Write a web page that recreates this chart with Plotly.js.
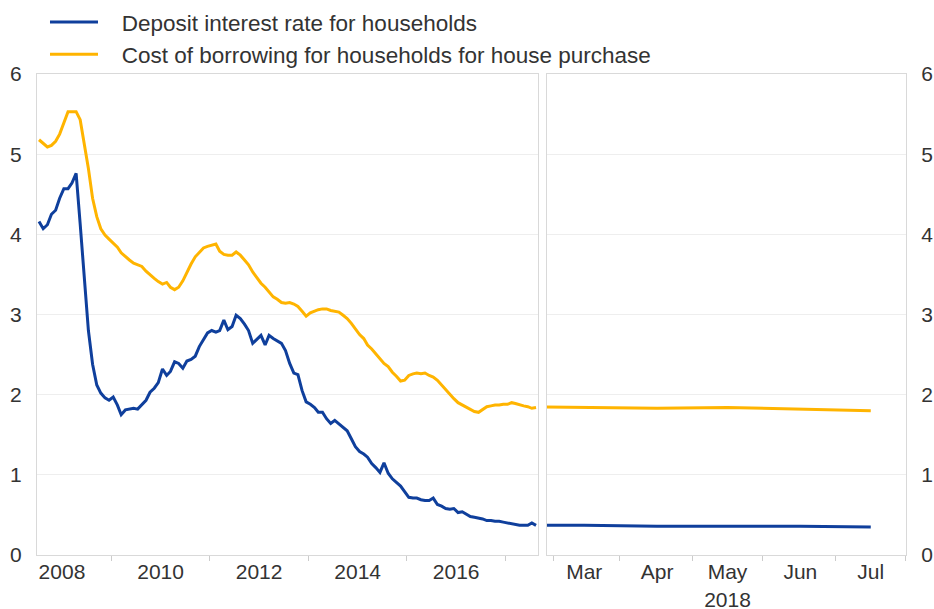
<!DOCTYPE html>
<html>
<head>
<meta charset="utf-8">
<script src="https://cdn.plot.ly/plotly-3.0.1.min.js"></script>
<style>html,body{margin:0;padding:0;background:#fff;}#chart{width:934px;height:609px;}</style>
</head>
<body>
<div id="chart"></div>
<script>
// ---- data ----
const seriesNames = ["Deposit interest rate for households", "Cost of borrowing for households for house purchase"];
const startYear = 2007, startMonth = 7, nMonths = 122; // monthly, Jul 2007 - Aug 2017
const depositRate = [
  4.16, 4.07, 4.12, 4.25, 4.30, 4.45,
  4.57, 4.57, 4.64, 4.76, 4.13, 3.42, 2.80, 2.38, 2.12, 2.02, 1.96, 1.93,
  1.97, 1.87, 1.75, 1.81, 1.82, 1.83, 1.82, 1.88, 1.93, 2.03, 2.08, 2.15,
  2.32, 2.24, 2.29, 2.41, 2.39, 2.33, 2.42, 2.44, 2.48, 2.60, 2.68, 2.77,
  2.80, 2.78, 2.80, 2.93, 2.81, 2.85, 2.99, 2.95, 2.88, 2.80, 2.64, 2.69,
  2.74, 2.62, 2.74, 2.70, 2.67, 2.64, 2.55, 2.39, 2.27, 2.25, 2.05, 1.91,
  1.88, 1.84, 1.78, 1.78, 1.70, 1.64, 1.68, 1.64, 1.60, 1.55, 1.45, 1.35,
  1.29, 1.26, 1.22, 1.14, 1.09, 1.03, 1.15, 1.02, 0.95, 0.90, 0.86, 0.79,
  0.72, 0.71, 0.71, 0.69, 0.68, 0.68, 0.71, 0.63, 0.61, 0.58, 0.57, 0.58,
  0.53, 0.54, 0.51, 0.48, 0.47, 0.46, 0.45, 0.43, 0.43, 0.42, 0.42, 0.41,
  0.40, 0.39, 0.38, 0.37, 0.37, 0.37, 0.40, 0.37
];
const borrowingCost = [
  5.18, 5.13, 5.09, 5.11, 5.16, 5.25,
  5.40, 5.53, 5.53, 5.53, 5.43, 5.12, 4.82, 4.45, 4.22, 4.07, 3.99, 3.94,
  3.89, 3.84, 3.77, 3.72, 3.68, 3.64, 3.62, 3.60, 3.54, 3.49, 3.45, 3.41,
  3.38, 3.40, 3.34, 3.31, 3.34, 3.42, 3.53, 3.63, 3.72, 3.78, 3.83, 3.85,
  3.87, 3.88, 3.79, 3.75, 3.74, 3.74, 3.78, 3.74, 3.68, 3.62, 3.53, 3.46,
  3.39, 3.34, 3.28, 3.22, 3.19, 3.15, 3.14, 3.15, 3.13, 3.10, 3.04, 2.98,
  3.02, 3.04, 3.06, 3.07, 3.07, 3.05, 3.04, 3.03, 2.99, 2.95, 2.89, 2.82,
  2.75, 2.70, 2.62, 2.57, 2.51, 2.45, 2.39, 2.35, 2.28, 2.23, 2.17, 2.18,
  2.24, 2.26, 2.27, 2.26, 2.27, 2.24, 2.22, 2.18, 2.12, 2.07, 2.01, 1.95,
  1.90, 1.87, 1.84, 1.81, 1.79, 1.78, 1.81, 1.85, 1.86, 1.87, 1.87, 1.88,
  1.88, 1.90, 1.89, 1.87, 1.86, 1.85, 1.83, 1.84
];
const recentDates = ["2018-02-01", "2018-03-01", "2018-04-01", "2018-05-01", "2018-06-01", "2018-07-01"];
const recentDeposit = [0.37, 0.37, 0.36, 0.36, 0.36, 0.35];
const recentBorrowing = [1.85, 1.84, 1.83, 1.84, 1.82, 1.80];
const yearTickVals = ["2008-01-01", "2010-01-01", "2012-01-01", "2014-01-01", "2016-01-01"];
const yearTickText = ["2008", "2010", "2012", "2014", "2016"];
const monthTickVals = ["2018-03-01", "2018-04-01", "2018-05-01", "2018-06-01", "2018-07-01"];
const monthTickText = ["Mar", "Apr", "May<br>2018", "Jun", "Jul"];
const yTicks = [0, 1, 2, 3, 4, 5, 6];

// monthly dates (mid-month)
const dates = [];
for (let i = 0; i < nMonths; i++) {
  const m = startMonth - 1 + i;
  const y = startYear + Math.floor(m / 12);
  const mm = (m % 12) + 1;
  dates.push(y + "-" + String(mm).padStart(2, "0") + "-15");
}

const BLUE = "#0f3f9c", YELLOW = "#ffb400";
const GRID = "#eeeeee", FRAME = "#d9d9d9", TXT = "#333333";
const FONT = "Liberation Sans, Arial, Helvetica, sans-serif";
const PAD = "\u00a0\u00a0\u00a0";

const traces = [
  {x: dates, y: depositRate, name: PAD + seriesNames[0], type: "scatter", mode: "lines",
   line: {color: BLUE, width: 3}, xaxis: "x", yaxis: "y"},
  {x: dates, y: borrowingCost, name: PAD + seriesNames[1], type: "scatter", mode: "lines",
   line: {color: YELLOW, width: 3}, xaxis: "x", yaxis: "y"},
  {x: recentDates, y: recentDeposit, name: seriesNames[0], type: "scatter", mode: "lines",
   line: {color: BLUE, width: 3}, xaxis: "x2", yaxis: "y2", showlegend: false},
  {x: recentDates, y: recentBorrowing, name: seriesNames[1], type: "scatter", mode: "lines",
   line: {color: YELLOW, width: 3}, xaxis: "x2", yaxis: "y2", showlegend: false}
];

const axCommon = {showline: true, mirror: true, linecolor: FRAME, linewidth: 1, zeroline: false,
  tickfont: {family: FONT, size: 21, color: TXT}, fixedrange: true};

const layout = {
  width: 934, height: 609,
  margin: {l: 37, r: 28, t: 74, b: 54, pad: 0, autoexpand: false},
  paper_bgcolor: "#ffffff", plot_bgcolor: "#ffffff",
  font: {family: FONT, size: 21, color: TXT},
  showlegend: true,
  legend: {x: 0.0092, y: 1.152, xanchor: "left", yanchor: "top", orientation: "v",
    font: {family: FONT, size: 22.5, color: TXT}, bgcolor: "rgba(0,0,0,0)", itemwidth: 48,
    tracegroupgap: 0},
  xaxis: Object.assign({}, axCommon, {
    type: "date", domain: [0, 0.5769], range: ["2007-06-30", "2017-09-01"],
    tickmode: "array", tickvals: yearTickVals, ticktext: yearTickText,
    ticks: "", showgrid: false, ticklabelstandoff: -2,
    minor: {tick0: "2009-01-01", dtick: "M24", ticks: "outside", ticklen: 5, tickcolor: "#cccccc", showgrid: false}
  }),
  xaxis2: Object.assign({}, axCommon, {
    type: "date", domain: [0.5865, 1], range: ["2018-02-13", "2018-07-16"], anchor: "y2",
    tickmode: "array", tickvals: monthTickVals, ticktext: monthTickText,
    ticks: "", showgrid: false, ticklabelstandoff: -2,
    minor: {tick0: "2018-02-16", dtick: "M1", ticks: "outside", ticklen: 5, tickcolor: "#cccccc", showgrid: false}
  }),
  yaxis: Object.assign({}, axCommon, {
    range: [0, 6], tickmode: "array", tickvals: yTicks, anchor: "x",
    showgrid: true, gridcolor: GRID, gridwidth: 1,
    ticks: "outside", ticklen: 10, tickcolor: "rgba(0,0,0,0)"
  }),
  yaxis2: Object.assign({}, axCommon, {
    range: [0, 6], tickmode: "array", tickvals: yTicks, anchor: "x2", side: "right",
    showgrid: true, gridcolor: GRID, gridwidth: 1,
    ticks: "outside", ticklen: 10, tickcolor: "rgba(0,0,0,0)"
  })
};

Plotly.newPlot("chart", traces, layout, {displayModeBar: false, staticPlot: true});
</script>
</body>
</html>
